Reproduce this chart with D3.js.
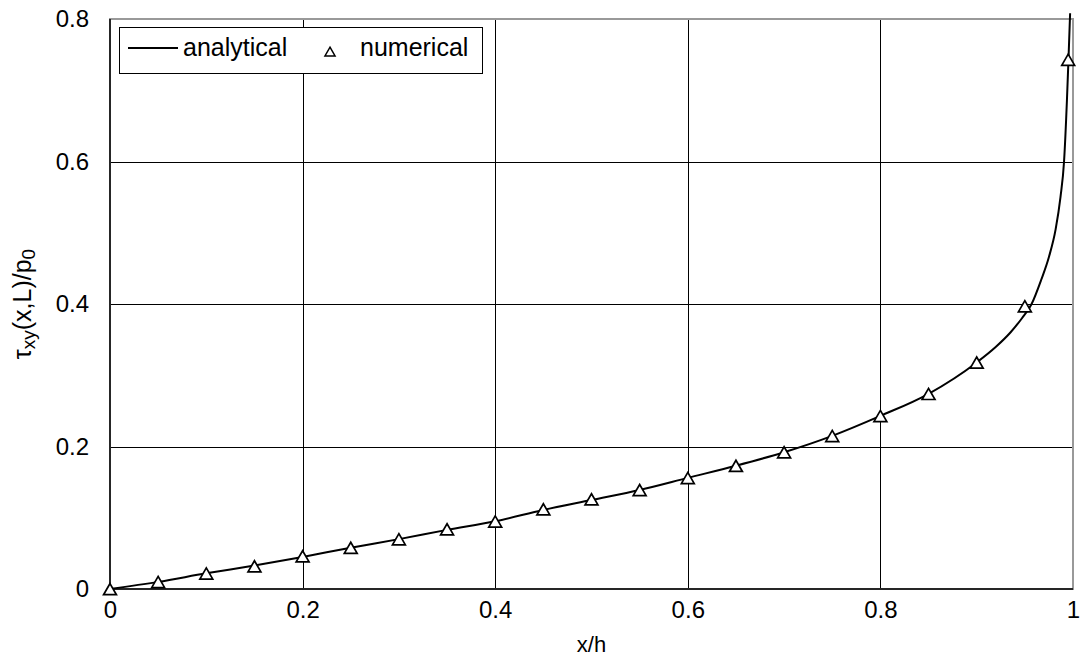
<!DOCTYPE html>
<meta charset="utf-8"/>
<head>
<style>
body { margin: 0; background: #fff; }
svg { display: block; background: #fff; }
text { font-family: 'Liberation Sans', Arial, sans-serif; fill: #000; }
.grid line { stroke: #000; stroke-width: 1px; shape-rendering: crispEdges; }
.grid path { display: none; }
.tick text { font-size: 24px; }
</style>
</head>
<body>
<div id="chart"></div>
<script src="https://d3js.org/d3.v7.min.js"></script>
<script type="text/javascript">

// numerical solution (triangles)
var numX = [0, 0.05, 0.1, 0.15, 0.2, 0.25, 0.3, 0.35, 0.4, 0.45, 0.5, 0.55, 0.6, 0.65, 0.7, 0.75, 0.8, 0.85, 0.9, 0.95, 0.995];
var numY = [0, 0.010, 0.022, 0.032, 0.046, 0.058, 0.070, 0.084, 0.095, 0.112, 0.126, 0.139, 0.156, 0.173, 0.192, 0.215, 0.243, 0.274, 0.318, 0.397, 0.743];

// analytical solution (line)
var anaX = [0, 0.05, 0.1, 0.15, 0.2, 0.25, 0.3, 0.35, 0.4, 0.45, 0.5, 0.55, 0.6, 0.65, 0.7, 0.75, 0.8, 0.85, 0.9, 0.92, 0.935, 0.947, 0.957, 0.967, 0.975, 0.982, 0.987, 0.9907, 0.9937, 0.9953, 0.997];
var anaY = [0, 0.010, 0.022, 0.033, 0.045, 0.058, 0.070, 0.083, 0.095, 0.111, 0.125, 0.139, 0.156, 0.173, 0.192, 0.215, 0.243, 0.274, 0.318, 0.340, 0.360, 0.380, 0.400, 0.434, 0.466, 0.505, 0.550, 0.600, 0.686, 0.743, 0.808];

var xTicks = [0, 0.2, 0.4, 0.6, 0.8, 1];
var xTickLabels = ["0", "0.2", "0.4", "0.6", "0.8", "1"];
var yTicks = [0, 0.2, 0.4, 0.6, 0.8];
var yTickLabels = ["0", "0.2", "0.4", "0.6", "0.8"];

var W = 1083, H = 662;
var pL = 110, pR = 1073, pT = 19, pB = 589;

var svg = d3.select("#chart").append("svg")
    .attr("width", W)
    .attr("height", H);

var x = d3.scaleLinear().domain([0, 1]).range([pL, pR]);
var y = d3.scaleLinear().domain([0, 0.8]).range([pB, pT]);

// gridlines + tick labels
svg.append("g")
    .attr("class", "grid")
    .attr("transform", "translate(0," + pB + ")")
    .call(d3.axisBottom(x).tickValues(xTicks)
        .tickFormat(function(d, i) { return xTickLabels[i]; })
        .tickSize(-(pB - pT)).tickPadding(29))
    .selectAll("text").attr("dy", "0");

svg.append("g")
    .attr("class", "grid")
    .attr("transform", "translate(" + pL + ",0)")
    .call(d3.axisLeft(y).tickValues(yTicks)
        .tickFormat(function(d, i) { return yTickLabels[i]; })
        .tickSize(-(pR - pL)).tickPadding(21));

// plot area border
svg.append("rect")
    .attr("x", pL).attr("y", pT)
    .attr("width", pR - pL).attr("height", pB - pT)
    .attr("fill", "none").attr("stroke", "#999").attr("stroke-width", 2);

svg.append("line")
    .attr("x1", pL).attr("x2", pL).attr("y1", pT).attr("y2", pB)
    .attr("stroke", "#000").attr("stroke-width", 1.5);
svg.append("line")
    .attr("x1", pL).attr("x2", pR).attr("y1", pB).attr("y2", pB)
    .attr("stroke", "#000").attr("stroke-width", 1.5);

// analytical line
var line = d3.line()
    .x(function(d) { return x(d[0]); })
    .y(function(d) { return y(d[1]); })
    .curve(d3.curveMonotoneX);

svg.append("path")
    .datum(anaX.map(function(v, i) { return [v, anaY[i]]; }))
    .attr("d", line)
    .attr("fill", "none")
    .attr("stroke", "#000")
    .attr("stroke-width", 2);

// numerical triangles
var tri = d3.symbol().type(d3.symbolTriangle).size(72);
svg.selectAll(".tri")
    .data(numX.map(function(v, i) { return [v, numY[i]]; }))
    .enter().append("path")
    .attr("class", "tri")
    .attr("d", tri)
    .attr("transform", function(d) { return "translate(" + x(d[0]) + "," + (y(d[1]) + 2) + ")"; })
    .attr("fill", "#fff")
    .attr("stroke", "#000")
    .attr("stroke-width", 1.7);

// legend
var lg = svg.append("g");
lg.append("rect")
    .attr("x", 119.5).attr("y", 27.5).attr("width", 363).attr("height", 46)
    .attr("fill", "#fff").attr("stroke", "#000").attr("stroke-width", 1);
lg.append("line")
    .attr("x1", 128).attr("x2", 178).attr("y1", 48).attr("y2", 48)
    .attr("stroke", "#000").attr("stroke-width", 2);
lg.append("text").attr("x", 183).attr("y", 56).style("font-size", "25px").text("analytical");
lg.append("path")
    .attr("d", d3.symbol().type(d3.symbolTriangle).size(44))
    .attr("transform", "translate(330,53)")
    .attr("fill", "#fff").attr("stroke", "#000").attr("stroke-width", 1.5);
lg.append("text").attr("x", 360).attr("y", 56).style("font-size", "25px").text("numerical");

// axis titles
svg.append("text")
    .attr("x", (pL + pR) / 2).attr("y", 652)
    .attr("text-anchor", "middle")
    .style("font-size", "22px")
    .text("x/h");

var yl = svg.append("text")
    .attr("transform", "translate(31," + ((pT + pB) / 2) + ") rotate(-90)")
    .attr("text-anchor", "middle")
    .style("font-size", "25px");
yl.append("tspan").text("\u03c4");
yl.append("tspan").attr("dy", 4).style("font-size", "19px").text("xy");
yl.append("tspan").attr("dy", -4).text("(x,L)/p");
yl.append("tspan").attr("dy", 4).style("font-size", "19px").text("0");

</script>
</body>
